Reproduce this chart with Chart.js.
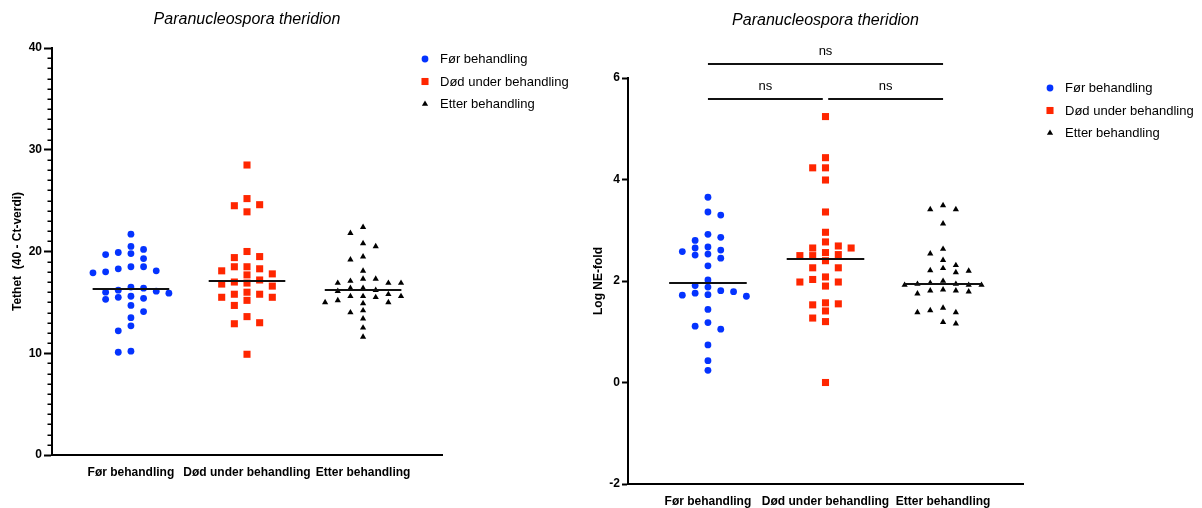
<!DOCTYPE html>
<html>
<head>
<meta charset="utf-8">
<script src="https://cdn.jsdelivr.net/npm/chart.js@4/dist/chart.umd.min.js"></script>
<style>
  html, body { margin: 0; padding: 0; background: #fff; }
  #wrap { position: relative; width: 1202px; height: 508px; overflow: hidden; }
  canvas { position: absolute; top: 0; }
  #tethet { left: 0; }
  #nefold { left: 580px; }
</style>
</head>
<body>
<div id="wrap">
  <canvas id="tethet" width="580" height="508"></canvas>
  <canvas id="nefold" width="622" height="508"></canvas>
</div>
<script>
// ---- data ----
const categories = ['Før behandling', 'Død under behandling', 'Etter behandling'];
const chartTitle = 'Paranucleospora theridion';

// Tetthet (40 - Ct-verdi) per fisk
const tethetFor = [21.7, 19.9, 19.7, 20.2, 20.5, 19.3, 19.8, 18.3, 18.5, 18.1, 18.0, 17.9, 18.5, 15.9, 16.1,
                   16.5, 16.2, 16.4, 16.0, 15.3, 15.4, 15.5, 15.6, 14.7, 14.1, 13.5, 12.7, 12.2, 10.1, 10.2];
const tethetDod = [28.5, 25.2, 24.5, 24.6, 23.9, 20.0, 19.4, 19.5, 18.3, 18.5, 18.5, 17.7, 17.8, 18.1, 17.2,
                   17.0, 16.8, 16.9, 16.6, 15.8, 16.0, 15.8, 15.2, 15.5, 15.5, 14.7, 13.6, 12.9, 13.0, 9.9];
const tethetEtter = [22.4, 21.8, 20.8, 20.5, 19.5, 19.2, 18.1, 17.3, 16.9, 16.9, 17.1, 17.3, 16.9, 16.4, 16.4,
                     16.1, 16.2, 15.6, 15.8, 15.6, 15.5, 15.6, 15.0, 15.0, 14.9, 15.2, 14.2, 14.0, 13.4, 12.5, 11.6];
const tethetMean = [16.3, 17.1, 16.2];
const tethetTicks = [0, 10, 20, 30, 40];

// Log NE-fold per fisk
const neFor = [3.65, 3.30, 3.36, 2.92, 2.80, 2.86, 2.61, 2.58, 2.67, 2.65, 2.45, 2.53, 2.51, 2.30, 2.02,
               1.88, 1.91, 1.79, 1.81, 1.70, 1.72, 1.73, 1.76, 1.44, 1.11, 1.05, 1.18, 0.74, 0.43, 0.24];
const neDod = [5.24, 4.43, 4.23, 4.23, 3.99, 3.36, 2.96, 2.77, 2.56, 2.40, 2.03, 1.90, 1.55, 2.69, 2.50,
               2.26, 1.98, 1.53, 1.27, 2.65, 2.50, 2.26, 1.98, 1.57, 1.41, 1.20, 2.65, 2.52, 2.08, 0.00];
const neEtter = [3.41, 3.49, 3.41, 3.13, 2.63, 2.54, 2.41, 2.31, 2.20, 2.17, 2.21, 2.25, 1.92, 1.92, 1.96,
                 1.92, 1.94, 1.94, 2.00, 1.75, 1.81, 1.79, 1.81, 1.83, 1.38, 1.38, 1.42, 1.47, 1.16, 1.19];
const neMean = [1.96, 2.44, 1.94];
const neTicks = [-2, 0, 2, 4, 6];

// pairwise comparisons: [from group, to group, label]
const comparisons = [[0, 1, 'ns'], [1, 2, 'ns'], [0, 2, 'ns']];

// ---- styling ----
const FONT = '"Liberation Sans", Arial, Helvetica, sans-serif';
const colors = ['#0433ff', '#ff2600', '#000000'];
const pointStyles = ['circle', 'rect', 'triangle'];
const pointRadii = [3.4, 5, 3.6];
const swarmGaps = [6.6, 7.2, 6.4];   // px of vertical room each symbol needs in one column
const X_MIN = -0.68, X_MAX = 2.68;
const SWARM_STEP = 0.109;            // column spacing of the swarm, in category widths

Chart.defaults.font.family = FONT;
Chart.defaults.color = '#000';

// place each value of a group in a compact swarm around the group centre;
// when both sides are free, take the side with fewer neighbours nearby
function swarmOffsets(values, ys, step, gap) {
  const order = values.map((v, i) => i).sort((a, b) => values[b] - values[a]);
  const placed = [];
  const off = new Array(values.length).fill(0);
  const fits = (px, py) => placed.every(p => Math.abs(p.x - px) > step - 0.5 || Math.abs(p.y - py) >= gap);
  for (const i of order) {
    const py = ys.getPixelForValue(values[i]);
    let found = null;
    for (let k = 0; found === null && k < 80; k++) {
      if (k === 0) {
        if (fits(0, py)) found = 0;
        continue;
      }
      const r = k * step / 2, l = -r;
      const okR = fits(r, py), okL = fits(l, py);
      if (okR && okL) {
        const near = placed.filter(p => Math.abs(p.y - py) < gap * 2.5);
        const nR = near.filter(p => p.x > 0).length;
        const nL = near.filter(p => p.x < 0).length;
        found = nL < nR ? l : (nR < nL ? r : (placed.length % 2 ? l : r));
      } else if (okR) {
        found = r;
      } else if (okL) {
        found = l;
      }
    }
    placed.push({ x: found, y: py });
    off[i] = found;
  }
  return off;
}

function drawSymbol(ctx, style, x, y, r, color) {
  ctx.save();
  ctx.fillStyle = color;
  ctx.beginPath();
  if (style === 'circle') {
    ctx.arc(x, y, r, 0, Math.PI * 2);
  } else if (style === 'rect') {
    const s = r * Math.SQRT1_2;
    ctx.rect(x - s, y - s, 2 * s, 2 * s);
  } else {
    ctx.moveTo(x, y - r);
    ctx.lineTo(x + Math.sin(2 * Math.PI / 3) * r, y + r / 2);
    ctx.lineTo(x - Math.sin(2 * Math.PI / 3) * r, y + r / 2);
    ctx.closePath();
  }
  ctx.fill();
  ctx.restore();
}

function extrasPlugin(o) {
  return {
    id: 'dotplotExtras',
    afterDatasetsDraw(chart) {
      const { ctx } = chart;
      const xs = chart.scales.x, ys = chart.scales.y;
      ctx.save();
      ctx.strokeStyle = '#111';
      ctx.lineWidth = 2;
      o.means.forEach((m, g) => {
        const y = Math.round(ys.getPixelForValue(m));
        ctx.beginPath();
        ctx.moveTo(xs.getPixelForValue(g - 0.33), y);
        ctx.lineTo(xs.getPixelForValue(g + 0.33), y);
        ctx.stroke();
      });
      ctx.restore();
    },
    afterDraw(chart) {
      const { ctx, chartArea } = chart;
      const xs = chart.scales.x, ys = chart.scales.y;
      ctx.save();

      // title
      ctx.font = 'italic 16px ' + FONT;
      ctx.fillStyle = '#000';
      ctx.textAlign = 'center';
      ctx.textBaseline = 'middle';
      ctx.fillText(chartTitle, xs.getPixelForValue(1), o.titleY);

      // minor ticks
      if (o.minorStep) {
        ctx.strokeStyle = '#000';
        ctx.lineWidth = 1.5;
        for (let v = o.yMin; v <= o.yMax; v += o.minorStep) {
          if (o.yTicks.includes(v)) continue;
          const y = Math.round(ys.getPixelForValue(v)) + 0.25;
          ctx.beginPath();
          ctx.moveTo(chartArea.left - 4.5, y);
          ctx.lineTo(chartArea.left, y);
          ctx.stroke();
        }
      }

      // legend
      ctx.font = '13px ' + FONT;
      ctx.textAlign = 'left';
      ctx.textBaseline = 'middle';
      categories.forEach((c, g) => {
        const y = o.legendY + g * o.legendGap;
        drawSymbol(ctx, pointStyles[g], o.legendX, y, pointRadii[g], colors[g]);
        ctx.fillStyle = '#000';
        ctx.fillText(c, o.legendX + 15, y + 0.5);
      });

      // significance brackets
      if (o.brackets) {
        ctx.strokeStyle = '#111';
        ctx.lineWidth = 2;
        ctx.font = '13px ' + FONT;
        ctx.textAlign = 'center';
        ctx.textBaseline = 'alphabetic';
        o.brackets.forEach(([a, b, label]) => {
          const wide = b - a > 1;
          const y = Math.round(wide ? chartArea.top - 14.5 : chartArea.top + 20.5);
          let x1 = xs.getPixelForValue(a), x2 = xs.getPixelForValue(b);
          if (!wide) {
            if (a === 1) x1 += 2.7;
            if (b === 1) x2 -= 2.7;
          }
          ctx.beginPath();
          ctx.moveTo(x1, y);
          ctx.lineTo(x2, y);
          ctx.stroke();
          ctx.fillStyle = '#000';
          ctx.fillText(label, (x1 + x2) / 2, y - 9);
        });
      }
      ctx.restore();
    }
  };
}

function makeChart(id, o) {
  const datasets = o.series.map((vals, g) => ({
    label: categories[g],
    data: vals.map(v => ({ x: g, y: v })),
    pointStyle: pointStyles[g],
    pointRadius: pointRadii[g],
    pointHoverRadius: pointRadii[g],
    pointBackgroundColor: colors[g],
    pointBorderWidth: 0,
    showLine: false
  }));

  const chart = new Chart(document.getElementById(id), {
    type: 'scatter',
    data: { datasets },
    options: {
      responsive: false,
      animation: false,
      devicePixelRatio: 1,
      events: [],
      layout: { padding: { left: 0, right: o.padRight, top: o.padTop, bottom: 0 } },
      plugins: { legend: { display: false }, tooltip: { enabled: false }, title: { display: false } },
      scales: {
        x: {
          type: 'linear', min: X_MIN, max: X_MAX,
          afterBuildTicks: s => { s.ticks = categories.map((c, i) => ({ value: i })); },
          afterFit: s => { s.height = o.xAxisH; },
          grid: { display: false, drawTicks: false },
          border: { display: true, color: '#000', width: 2 },
          ticks: {
            callback: v => categories[v],
            font: { size: 12, weight: 'bold' }, color: '#000',
            padding: 10, maxRotation: 0, autoSkip: false
          }
        },
        y: {
          type: 'linear', min: o.yMin, max: o.yMax,
          afterBuildTicks: s => { s.ticks = o.yTicks.map(v => ({ value: v })); },
          afterFit: s => { s.width = o.yAxisW; },
          grid: { drawOnChartArea: false, drawTicks: true, tickLength: o.tickLen, tickWidth: 2, tickColor: '#000' },
          border: { display: true, color: '#000', width: 2 },
          ticks: { font: { size: 12, weight: 'bold' }, color: '#000', padding: 2 },
          title: {
            display: true, text: o.yTitle, color: '#000',
            font: { size: 12, weight: 'bold' },
            padding: { top: o.yTitlePad, bottom: 0 }
          }
        }
      }
    },
    plugins: [extrasPlugin(o)]
  });

  // spread each group sideways as a swarm, using the laid-out scales
  const xs = chart.scales.x, ys = chart.scales.y;
  const unit = xs.getPixelForValue(1) - xs.getPixelForValue(0);
  const step = unit * SWARM_STEP;
  o.series.forEach((vals, g) => {
    const off = swarmOffsets(vals, ys, step, swarmGaps[g]);
    chart.data.datasets[g].data = vals.map((v, i) => ({ x: g + off[i] / unit, y: v }));
  });
  chart.update('none');
  return chart;
}

makeChart('tethet', {
  series: [tethetFor, tethetDod, tethetEtter],
  means: tethetMean,
  yMin: 0, yMax: 40, yTicks: tethetTicks, minorStep: 1,
  yTitle: 'Tethet  (40 - Ct-verdi)',
  yAxisW: 52, yTitlePad: 10, tickLen: 8,
  padTop: 48, padRight: 580 - 442, xAxisH: 53,
  titleY: 20, legendX: 425, legendY: 59, legendGap: 22.5
});

makeChart('nefold', {
  series: [neFor, neDod, neEtter],
  means: neMean,
  yMin: -2, yMax: 6, yTicks: neTicks, minorStep: 0,
  yTitle: 'Log NE-fold',
  yAxisW: 48, yTitlePad: 11, tickLen: 6,
  padTop: 78, padRight: 622 - 443, xAxisH: 24,
  titleY: 21, legendX: 470, legendY: 88, legendGap: 22.5,
  brackets: comparisons
});
</script>
</body>
</html>
